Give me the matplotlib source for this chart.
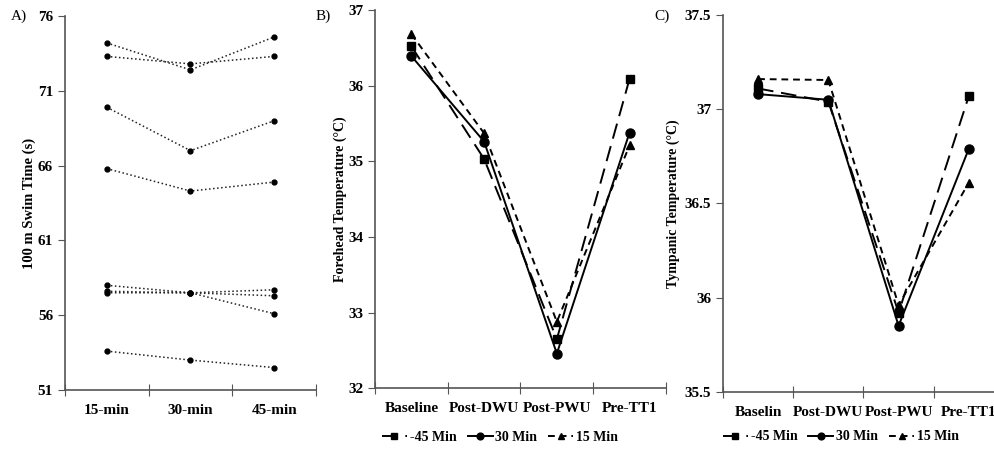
import numpy as np
import matplotlib
matplotlib.use("Agg")
import matplotlib.pyplot as plt

plt.rcParams['font.family'] = ['Liberation Serif', 'DejaVu Serif']

# Dados do painel A (tempo de nado de cada atleta)
tempos_cat = ["15-min", "30-min", "45-min"]
swim_1 = [74.2, 72.4, 74.6]
swim_2 = [73.3, 72.8, 73.3]
swim_3 = [69.9, 67.0, 69.0]
swim_4 = [65.8, 64.3, 64.9]
swim_5 = [58.0, 57.5, 56.1]
swim_6 = [57.6, 57.5, 57.7]
swim_7 = [57.5, 57.5, 57.3]
swim_8 = [53.6, 53.0, 52.5]
swims = [swim_1, swim_2, swim_3, swim_4, swim_5, swim_6, swim_7, swim_8]

# Dados dos painéis B e C
fases_b = ["Baseline", "Post-DWU", "Post-PWU", "Pre-TT1"]
fases_c = ["Baselin", "Post-DWU", "Post-PWU", "Pre-TT1"]
fore_45 = [36.52, 35.03, 32.65, 36.09]
fore_30 = [36.39, 35.26, 32.46, 35.38]
fore_15 = [36.68, 35.37, 32.88, 35.21]
tymp_45 = [37.11, 37.04, 35.92, 37.07]
tymp_30 = [37.08, 37.05, 35.85, 36.79]
tymp_15 = [37.16, 37.155, 35.96, 36.61]
rotulos = ["-45 Min", "30 Min", "15 Min"]

spine_cor = "#555555"


def arruma_eixo(ax, cats, ylim, yticks):
    n = len(cats)
    ax.set_xlim(-0.5, n - 0.5)
    ax.set_ylim(*ylim)
    ax.set_yticks(yticks)
    ax.set_xticks(np.arange(n + 1) - 0.5)
    ax.set_xticklabels([])
    ax.set_xticks(np.arange(n), minor=True)
    ax.set_xticklabels(cats, minor=True, fontsize=11, fontweight='bold')
    ax.tick_params(axis='x', which='major', direction='inout', length=8, color=spine_cor)
    ax.tick_params(axis='x', which='minor', length=0, pad=10)
    ax.tick_params(axis='y', direction='out', length=5, color=spine_cor, labelsize=11)
    for lab in ax.get_yticklabels():
        lab.set_fontweight('bold')
    for s in ['top', 'right']:
        ax.spines[s].set_visible(False)
    for s in ['left', 'bottom']:
        ax.spines[s].set_color(spine_cor)
        ax.spines[s].set_linewidth(1.2)


def legenda(ax, cx, cy):
    ax.legend(loc='center', bbox_to_anchor=(cx, cy), ncol=3, frameon=False,
              prop={'family': 'Liberation Serif', 'weight': 'bold', 'size': 10},
              handlelength=1.8, handletextpad=0.2, columnspacing=0.8, markerscale=0.75)


fig = plt.figure(figsize=(9.95, 4.5), dpi=100)

# Painel A
axA = fig.add_axes([0.0653, 0.1333, 0.2523, 0.8311])
x = np.arange(len(tempos_cat))
for s in swims:
    axA.plot(x, s, linestyle=':', color='#222222', lw=1.1, marker='o', ms=3.5,
             markerfacecolor='black', markeredgecolor='black')
arruma_eixo(axA, tempos_cat, (51, 76), [51, 56, 61, 66, 71, 76])
axA.set_ylabel("100 m Swim Time (s)", fontsize=10.5, fontweight='bold', labelpad=1)
fig.text(0.011, 0.963, "A)", fontsize=11, va='center')

# Painel B
axB = fig.add_axes([0.3769, 0.137, 0.2924, 0.841])
x4 = np.arange(len(fases_b))
axB.plot(x4, fore_45, color='black', lw=1.4, ls=(0, (8, 4)), marker='s', ms=6, label=rotulos[0])
axB.plot(x4, fore_30, color='black', lw=1.4, ls='-', marker='o', ms=6.5, label=rotulos[1])
axB.plot(x4, fore_15, color='black', lw=1.4, ls=(0, (3.5, 2.5)), marker='^', ms=6, label=rotulos[2])
arruma_eixo(axB, fases_b, (32, 37), [32, 33, 34, 35, 36, 37])
axB.set_ylabel("Forehead Temperature (\u00b0C)", fontsize=10, fontweight='bold', labelpad=1)
fig.text(0.317, 0.963, "B)", fontsize=11, va='center')
legenda(axB, 0.43, -0.13)

# Painel C
axC = fig.add_axes([0.7266, 0.1296, 0.2824, 0.837])
axC.plot(x4, tymp_45, color='black', lw=1.4, ls=(0, (8, 4)), marker='s', ms=6, label=rotulos[0])
axC.plot(x4, tymp_30, color='black', lw=1.4, ls='-', marker='o', ms=6.5, label=rotulos[1])
axC.plot(x4, tymp_15, color='black', lw=1.4, ls=(0, (3.5, 2.5)), marker='^', ms=6, label=rotulos[2])
arruma_eixo(axC, fases_c, (35.5, 37.5), [35.5, 36, 36.5, 37, 37.5])
axC.set_yticklabels(["35.5", "36", "36.5", "37", "37.5"], fontweight='bold', fontsize=11)
axC.set_ylabel("Tympanic Temperature (\u00b0C)", fontsize=10, fontweight='bold', labelpad=3)
fig.text(0.658, 0.963, "C)", fontsize=11, va='center')
legenda(axC, 0.42, -0.12)

fig.savefig("out.png", dpi=100)
